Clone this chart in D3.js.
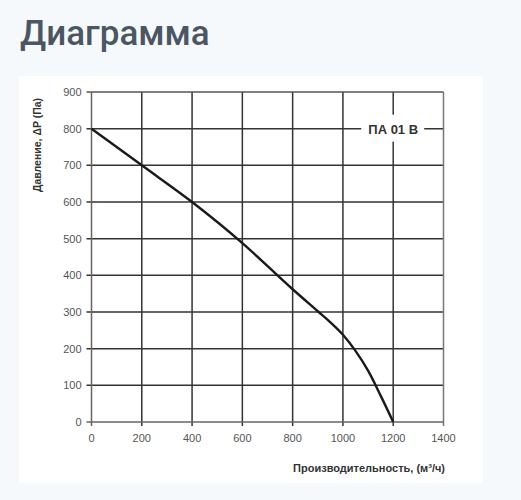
<!DOCTYPE html>
<html><head><meta charset="utf-8">
<script src="https://cdn.jsdelivr.net/npm/d3@7"></script>
<style>
html,body{margin:0;padding:0;background:#f6f9fc;}
svg{display:block;}
</style></head>
<body>
<svg id="c" width="521" height="500"></svg>
<script>
const flow = [0, 200, 400, 600, 800, 900, 950, 1000, 1050, 1100, 1150, 1200];
const pressure = [800, 700, 600, 488, 362, 302, 272, 238, 194, 140, 72, 0];
const xTicks = [0, 200, 400, 600, 800, 1000, 1200, 1400];
const yTicks = [0, 100, 200, 300, 400, 500, 600, 700, 800, 900];
const title = "Диаграмма";
const seriesName = "ПА 01 В";
const xLabel = "Производительность, (м³/ч)";
const yLabel = "Давление, ΔP (Па)";

const svg = d3.select("#c");
svg.append("rect").attr("x",19).attr("y",76).attr("width",464).attr("height",407).attr("fill","#ffffff");
svg.append("text").attr("x",20).attr("y",45).text(title)
  .attr("font-family","Roboto").attr("font-weight",500).attr("font-size",35).attr("fill","#4a5662");

const x = d3.scaleLinear().domain([0,1400]).range([91.5,443.5]);
const y = d3.scaleLinear().domain([0,900]).range([422,92]);
const g = svg.append("g");

// grid
g.selectAll(".vg").data(xTicks.filter(d=>d>0 && d<1400)).join("line")
  .attr("x1",d=>x(d)).attr("x2",d=>x(d)).attr("y1",y(900)).attr("y2",y(0)+4)
  .attr("stroke","#333").attr("stroke-width",1.5);
g.selectAll(".hg").data(yTicks.filter(d=>d>0 && d<900)).join("line")
  .attr("x1",x(0)-5).attr("x2",x(1400)).attr("y1",d=>y(d)).attr("y2",d=>y(d))
  .attr("stroke","#333").attr("stroke-width",1.5);
// frame
g.append("line").attr("x1",x(0)-5).attr("x2",x(1400)).attr("y1",y(900)).attr("y2",y(900)).attr("stroke","#555").attr("stroke-width",1.5);
g.append("line").attr("x1",x(1400)).attr("x2",x(1400)).attr("y1",y(900)).attr("y2",y(0)+4).attr("stroke","#777").attr("stroke-width",1.5);
g.append("line").attr("x1",x(0)).attr("x2",x(0)).attr("y1",y(900)).attr("y2",y(0)+4).attr("stroke","#666").attr("stroke-width",1.5);
g.append("line").attr("x1",x(0)-5).attr("x2",x(1400)).attr("y1",y(0)).attr("y2",y(0)).attr("stroke","#666").attr("stroke-width",1.5);

// tick labels
g.selectAll(".yl").data(yTicks).join("text")
  .attr("x",x(0)-10).attr("y",d=>y(d)+4).attr("text-anchor","end")
  .attr("font-family","Liberation Sans, Arial").attr("font-size",11).attr("fill","#555").text(d=>d);
g.selectAll(".xl").data(xTicks).join("text")
  .attr("x",d=>x(d)).attr("y",442).attr("text-anchor","middle")
  .attr("font-family","Liberation Sans, Arial").attr("font-size",11).attr("fill","#555").text(d=>d);

// curve
const line = d3.line().x((d,i)=>x(flow[i])).y(d=>y(d)).curve(d3.curveMonotoneX);
g.append("path").attr("d",line(pressure)).attr("fill","none").attr("stroke","#1a1a1a").attr("stroke-width",2.4);

// series label with white mask
const lx = x(1200), ly = y(800);
g.append("rect").attr("x",lx-32).attr("y",ly-14).attr("width",63).attr("height",27).attr("fill","#fff");
g.append("text").attr("x",lx).attr("y",ly+5).attr("text-anchor","middle")
  .attr("font-family","Liberation Sans, Arial").attr("font-weight","bold").attr("font-size",13).attr("fill","#333").text(seriesName);

// axis titles
g.append("text").attr("transform","translate(41,145) rotate(-90)").attr("text-anchor","middle")
  .attr("font-family","Liberation Sans, Arial").attr("font-weight","bold").attr("font-size",10.5).attr("fill","#333").text(yLabel);
g.append("text").attr("x",445).attr("y",472).attr("text-anchor","end")
  .attr("font-family","Liberation Sans, Arial").attr("font-weight","bold").attr("font-size",11).attr("fill","#333").text(xLabel);
</script>
</body></html>
